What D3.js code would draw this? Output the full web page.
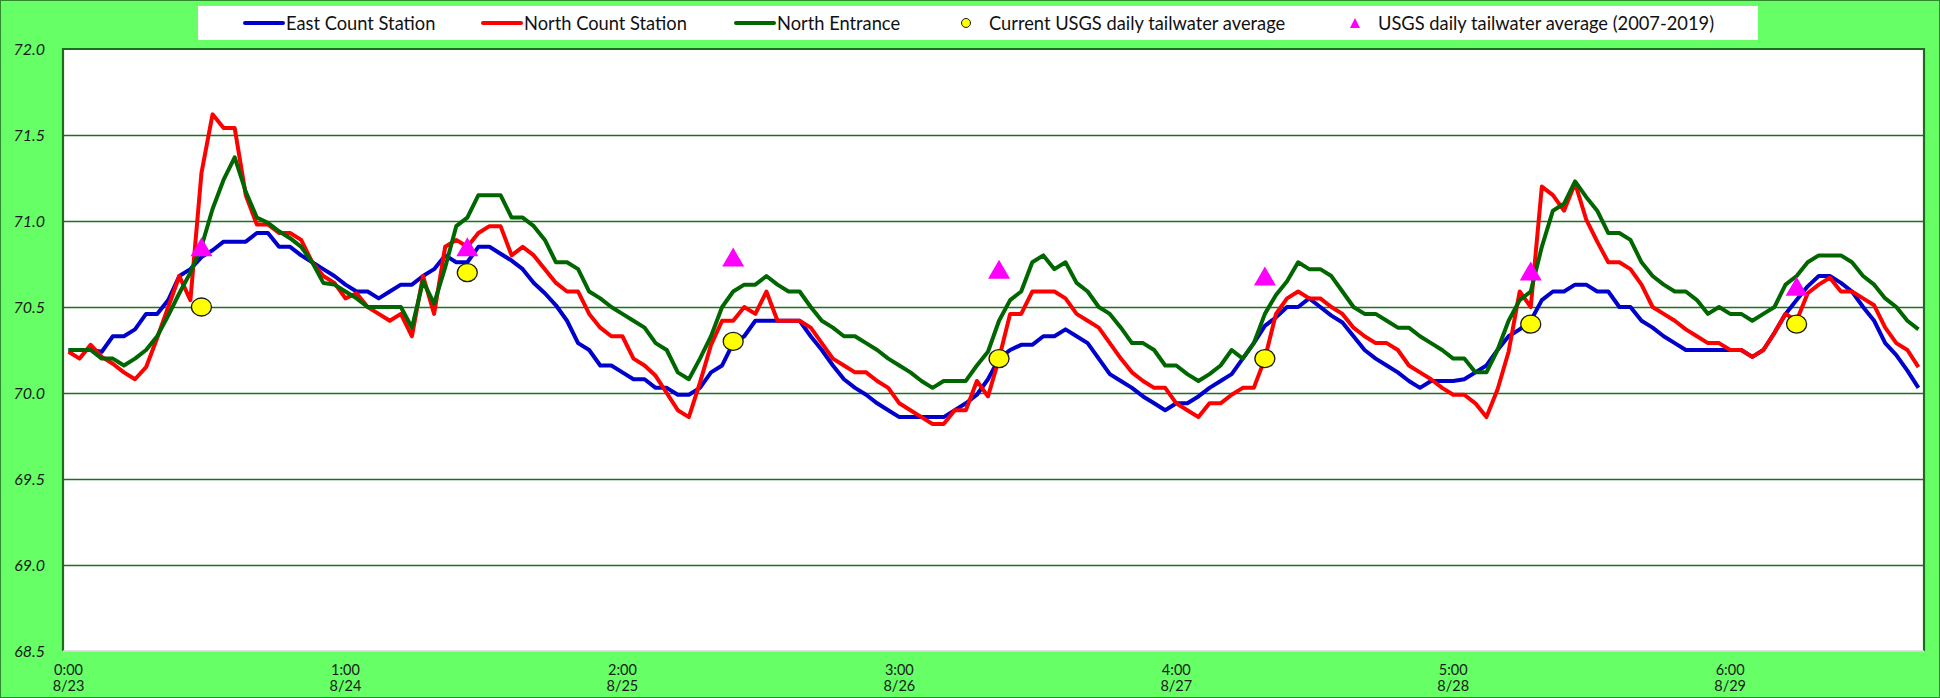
<!DOCTYPE html>
<meta charset="utf-8">
<style>
  body {
    margin: 0;
    background: #66ff66;
  }

  svg {
    display: block;
  }

  .legend text {
    font-family: Lato, "Open Sans", sans-serif;
    font-size: 18.3px;
    fill: #111;
  }

  .y-axis text {
    font-family: Lato, "Open Sans", sans-serif;
    font-style: italic;
    font-size: 16px;
    fill: #1a1a1a;
  }

  .x-labels text {
    font-family: Lato, "Open Sans", sans-serif;
    font-size: 14.5px;
    fill: #1a1a1a;
  }
</style>
<body>
<script src="https://d3js.org/d3.v7.min.js"></script>
<script>
// hourly readings, 8/23 0:00 through 8/29 23:00
const eastCount = [
  70.25, 70.25, 70.25, 70.24, 70.33, 70.33, 70.37, 70.46, 70.46, 70.54,
  70.68, 70.72, 70.79, 70.83, 70.88, 70.88, 70.88, 70.93, 70.93, 70.85,
  70.85, 70.80, 70.76, 70.72, 70.68, 70.63, 70.59, 70.59, 70.55, 70.59,
  70.63, 70.63, 70.68, 70.72, 70.80, 70.76, 70.76, 70.85, 70.85, 70.81,
  70.77, 70.72, 70.64, 70.58, 70.51, 70.42, 70.29, 70.25, 70.16, 70.16,
  70.12, 70.08, 70.08, 70.03, 70.03, 69.99, 69.99, 70.03, 70.12, 70.16,
  70.29, 70.33, 70.42, 70.42, 70.42, 70.42, 70.42, 70.33, 70.25, 70.16,
  70.08, 70.03, 69.99, 69.94, 69.90, 69.86, 69.86, 69.86, 69.86, 69.86,
  69.90, 69.94, 69.99, 70.08, 70.20, 70.25, 70.28, 70.28, 70.33, 70.33,
  70.37, 70.33, 70.29, 70.20, 70.11, 70.07, 70.03, 69.98, 69.94, 69.90,
  69.94, 69.94, 69.98, 70.03, 70.07, 70.11, 70.20, 70.29, 70.39, 70.44,
  70.50, 70.50, 70.55, 70.50, 70.45, 70.41, 70.33, 70.25, 70.20, 70.16,
  70.12, 70.07, 70.03, 70.07, 70.07, 70.07, 70.08, 70.12, 70.16, 70.25,
  70.33, 70.37, 70.42, 70.54, 70.59, 70.59, 70.63, 70.63, 70.59, 70.59,
  70.50, 70.50, 70.42, 70.38, 70.33, 70.29, 70.25, 70.25, 70.25, 70.25,
  70.25, 70.25, 70.21, 70.25, 70.35, 70.46, 70.54, 70.62, 70.68, 70.68,
  70.64, 70.59, 70.50, 70.42, 70.29, 70.22, 70.13, 70.03
];

const northCount = [
  70.24, 70.20, 70.28, 70.21, 70.17, 70.12, 70.08, 70.15, 70.32, 70.50,
  70.68, 70.54, 71.28, 71.62, 71.54, 71.54, 71.15, 70.98, 70.98, 70.93,
  70.93, 70.89, 70.76, 70.68, 70.64, 70.55, 70.58, 70.50, 70.46, 70.42,
  70.46, 70.33, 70.68, 70.46, 70.85, 70.89, 70.85, 70.93, 70.97, 70.97,
  70.80, 70.85, 70.80, 70.72, 70.64, 70.59, 70.59, 70.46, 70.38, 70.33,
  70.33, 70.20, 70.16, 70.10, 70.00, 69.90, 69.86, 70.06, 70.28, 70.42,
  70.42, 70.50, 70.46, 70.59, 70.42, 70.42, 70.42, 70.38, 70.29, 70.20,
  70.16, 70.12, 70.12, 70.07, 70.03, 69.94, 69.90, 69.86, 69.82, 69.82,
  69.90, 69.90, 70.07, 69.98, 70.20, 70.46, 70.46, 70.59, 70.59, 70.59,
  70.55, 70.46, 70.42, 70.38, 70.29, 70.20, 70.12, 70.07, 70.03, 70.03,
  69.94, 69.90, 69.86, 69.94, 69.94, 69.99, 70.03, 70.03, 70.20, 70.46,
  70.55, 70.59, 70.55, 70.55, 70.50, 70.46, 70.38, 70.33, 70.29, 70.29,
  70.25, 70.16, 70.12, 70.08, 70.03, 69.99, 69.99, 69.94, 69.86, 70.02,
  70.24, 70.59, 70.50, 71.20, 71.15, 71.06, 71.22, 71.01, 70.88, 70.76,
  70.76, 70.72, 70.63, 70.50, 70.46, 70.42, 70.37, 70.33, 70.29, 70.29,
  70.25, 70.25, 70.21, 70.25, 70.35, 70.46, 70.42, 70.58, 70.63, 70.67,
  70.59, 70.59, 70.55, 70.51, 70.38, 70.29, 70.25, 70.15
];

const northEntrance = [
  70.25, 70.25, 70.25, 70.20, 70.20, 70.16, 70.20, 70.25, 70.33, 70.45,
  70.58, 70.70, 70.85, 71.07, 71.24, 71.37, 71.17, 71.02, 70.99, 70.94,
  70.90, 70.85, 70.76, 70.64, 70.63, 70.59, 70.55, 70.50, 70.50, 70.50,
  70.50, 70.38, 70.65, 70.52, 70.73, 70.97, 71.02, 71.15, 71.15, 71.15,
  71.02, 71.02, 70.97, 70.89, 70.76, 70.76, 70.72, 70.59, 70.55, 70.50,
  70.46, 70.42, 70.38, 70.29, 70.25, 70.12, 70.08, 70.20, 70.33, 70.50,
  70.59, 70.63, 70.63, 70.68, 70.63, 70.59, 70.59, 70.50, 70.42, 70.38,
  70.33, 70.33, 70.29, 70.25, 70.20, 70.16, 70.12, 70.07, 70.03, 70.07,
  70.07, 70.07, 70.16, 70.24, 70.42, 70.54, 70.59, 70.76, 70.80, 70.72,
  70.76, 70.64, 70.59, 70.50, 70.46, 70.38, 70.29, 70.29, 70.25, 70.16,
  70.16, 70.11, 70.07, 70.11, 70.16, 70.25, 70.20, 70.29, 70.46, 70.57,
  70.65, 70.76, 70.72, 70.72, 70.68, 70.59, 70.50, 70.46, 70.46, 70.42,
  70.38, 70.38, 70.33, 70.29, 70.25, 70.20, 70.20, 70.12, 70.12, 70.25,
  70.42, 70.54, 70.59, 70.85, 71.06, 71.10, 71.23, 71.14, 71.06, 70.93,
  70.93, 70.89, 70.76, 70.68, 70.63, 70.59, 70.59, 70.54, 70.46, 70.50,
  70.46, 70.46, 70.42, 70.46, 70.50, 70.63, 70.68, 70.76, 70.80, 70.80,
  70.80, 70.76, 70.68, 70.63, 70.55, 70.50, 70.42, 70.37
];

// daily tailwater markers, placed at noon of each day
const dailyIdx = [12, 36, 60, 84, 108, 132, 156];
const usgsCurrent = [70.50, 70.70, 70.30, 70.20, 70.20, 70.40, 70.40];
const usgsHistoric = [70.85, 70.85, 70.79, 70.72, 70.68, 70.71, 70.62];

// category axis labels every 25 points
const tickIdx = [0, 25, 50, 75, 100, 125, 150];
const tickTime = ['0:00', '1:00', '2:00', '3:00', '4:00', '5:00', '6:00'];
const tickDate = ['8/23', '8/24', '8/25', '8/26', '8/27', '8/28', '8/29'];

const yTicks = [68.5, 69.0, 69.5, 70.0, 70.5, 71.0, 71.5, 72.0];
const gridTicks = [69.0, 69.5, 70.0, 70.5, 71.0, 71.5];

const width = 1940;
const height = 698;
const plot = {left: 63, top: 49, right: 1924, bottom: 651};

const svg = d3.select('body')
  .append('svg')
  .attr('width', width)
  .attr('height', height);

// chart background + thin outer frame
svg.append('rect')
  .attr('x', 0.5).attr('y', 0.5)
  .attr('width', width - 1).attr('height', height - 1)
  .style('fill', '#66ff66')
  .style('stroke', '#2f8a2f')
  .style('stroke-width', 1);

// plot area
svg.append('rect')
  .attr('x', plot.left).attr('y', plot.top)
  .attr('width', plot.right - plot.left)
  .attr('height', plot.bottom - plot.top)
  .style('fill', '#fff');

const x = d3.scalePoint()
  .domain(d3.range(eastCount.length))
  .range([plot.left, plot.right])
  .padding(0.5);

const y = d3.scaleLinear()
  .domain([68.5, 72])
  .range([plot.bottom, plot.top]);

// gridlines
svg.append('g')
  .attr('class', 'grid')
  .attr('transform', `translate(${plot.left},0)`)
  .call(d3.axisLeft(y).tickValues(gridTicks).tickSize(-(plot.right - plot.left)).tickFormat(''))
  .call(g => g.select('.domain').remove())
  .call(g => g.selectAll('line').style('stroke', '#1d701d').style('stroke-width', 1.6));

// plot border: dark green left/top/right, pale bottom axis line
svg.append('path')
  .attr('d', `M${plot.left},${plot.bottom}V${plot.top}H${plot.right}V${plot.bottom}`)
  .style('fill', 'none')
  .style('stroke', '#1d6b1d')
  .style('stroke-width', 2.2);

svg.append('line')
  .attr('x1', plot.left).attr('x2', plot.right)
  .attr('y1', plot.bottom).attr('y2', plot.bottom)
  .style('stroke', '#d9d9d9')
  .style('stroke-width', 1.5);

// y axis labels
svg.append('g')
  .attr('class', 'y-axis')
  .attr('transform', `translate(${plot.left},0)`)
  .call(d3.axisLeft(y).tickValues(yTicks).tickSize(0).tickPadding(18).tickFormat(d3.format('.1f')))
  .call(g => g.select('.domain').remove());

// x axis labels (two lines)
const xl = svg.append('g')
  .attr('class', 'x-labels')
  .selectAll('text')
  .data(tickIdx)
  .enter().append('text')
    .attr('x', d => x(d))
    .attr('y', plot.bottom + 24)
    .style('text-anchor', 'middle');

xl.append('tspan').attr('x', d => x(d)).text((d, i) => tickTime[i]);
xl.append('tspan').attr('x', d => x(d)).attr('dy', 16).text((d, i) => tickDate[i]);

const line = d3.line()
  .x((d, i) => x(i))
  .y(d => y(d));

const series = [
  {name: 'East Count Station', values: eastCount, color: '#0000cc'},
  {name: 'North Count Station', values: northCount, color: '#ff0000'},
  {name: 'North Entrance', values: northEntrance, color: '#006600'}
];

svg.append('g')
  .selectAll('path')
  .data(series)
  .enter().append('path')
    .attr('d', d => line(d.values))
    .style('fill', 'none')
    .style('stroke', d => d.color)
    .style('stroke-width', 4)
    .style('stroke-linejoin', 'round');

// markers
svg.append('g')
  .selectAll('ellipse')
  .data(dailyIdx)
  .enter().append('ellipse')
    .attr('cx', d => x(d))
    .attr('cy', (d, i) => y(usgsCurrent[i]))
    .attr('rx', 10)
    .attr('ry', 9)
    .style('fill', '#ffff00')
    .style('stroke', '#1a1a1a')
    .style('stroke-width', 1.3);

const tri = (cx, cy, w, h) => `M${cx},${cy - h / 2}L${cx + w / 2},${cy + h / 2}L${cx - w / 2},${cy + h / 2}Z`;

svg.append('g')
  .selectAll('path')
  .data(dailyIdx)
  .enter().append('path')
    .attr('d', (d, i) => tri(x(d), y(usgsHistoric[i]), 22, 19))
    .style('fill', '#ff00ff');

// legend
const legend = svg.append('g').attr('class', 'legend');

legend.append('rect')
  .attr('x', 198).attr('y', 6)
  .attr('width', 1560).attr('height', 34)
  .style('fill', '#fff');

const legendItems = [
  {label: 'East Count Station', type: 'line', color: '#0000cc', x: 245},
  {label: 'North Count Station', type: 'line', color: '#ff0000', x: 483},
  {label: 'North Entrance', type: 'line', color: '#006600', x: 736},
  {label: 'Current USGS daily tailwater average', type: 'circle', x: 957},
  {label: 'USGS daily tailwater average (2007-2019)', type: 'triangle', x: 1346}
];

const li = legend.selectAll('g.item')
  .data(legendItems)
  .enter().append('g')
    .attr('class', 'item')
    .attr('transform', d => `translate(${d.x},23)`);

li.filter(d => d.type === 'line').append('line')
  .attr('x1', 0).attr('x2', 38)
  .style('stroke', d => d.color)
  .style('stroke-width', 4)
  .style('stroke-linecap', 'round');

li.filter(d => d.type === 'circle').append('circle')
  .attr('cx', 9).attr('r', 4.5)
  .style('fill', '#ffff00')
  .style('stroke', '#1a1a1a')
  .style('stroke-width', 1);

li.filter(d => d.type === 'triangle').append('path')
  .attr('d', tri(9, 0, 10, 10))
  .style('fill', '#ff00ff');

li.append('text')
  .attr('x', d => d.type === 'line' ? 41 : 32)
  .attr('y', 6.5)
  .text(d => d.label);
</script>
</body>
